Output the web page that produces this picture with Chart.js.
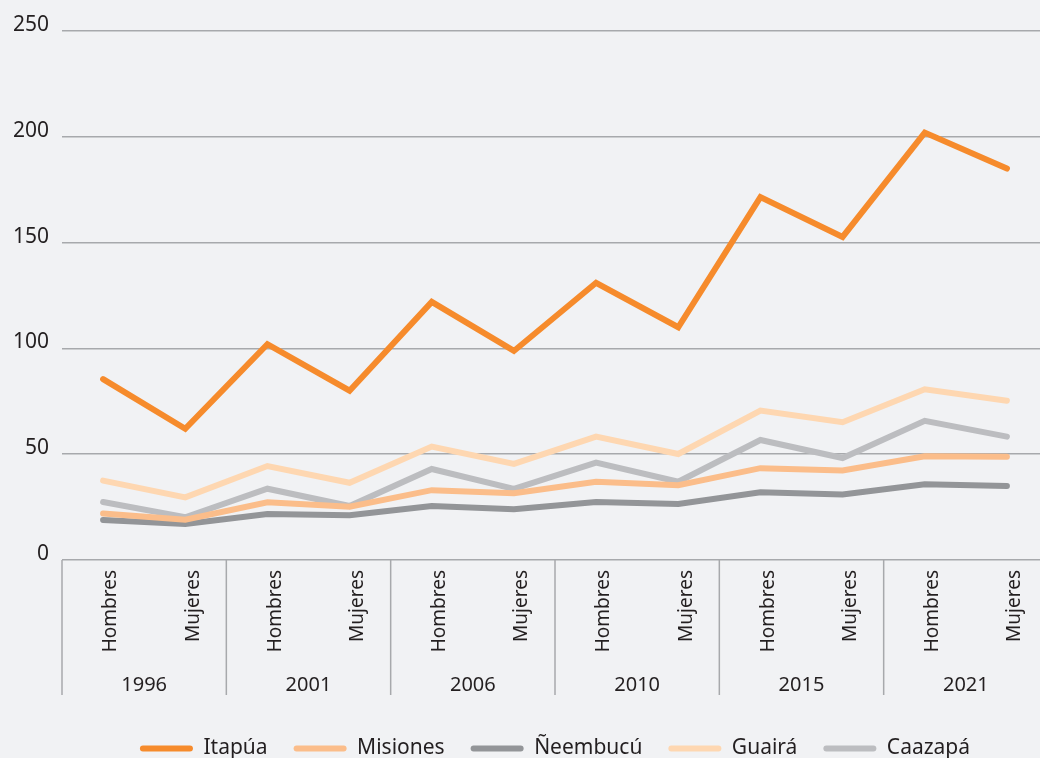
<!DOCTYPE html>
<html lang="es">
<head>
  <meta charset="UTF-8">
  <title>Itapúa y departamentos</title>
  <script src="https://cdn.jsdelivr.net/npm/chart.js"></script>
  <style>
    html, body {
      margin: 0;
      padding: 0;
      background: #f1f2f4;
      overflow: hidden;
    }
    #wrap {
      position: absolute;
      left: 0;
      top: 0;
      width: 1048px;
      height: 780px;
    }
  </style>
</head>
<body>
  <div id="wrap">
    <canvas id="chart" width="1048" height="780"></canvas>
  </div>

  <script>
    // categorias: sexo dentro de cada censo
    const years = ['1996', '2001', '2006', '2010', '2015', '2021'];
    const sexes = ['Hombres', 'Mujeres'];
    const categories = years.flatMap(() => sexes);

    // valores
    const itapua    = [85.5, 62, 102, 80, 122, 98.8, 131, 110, 171.5, 152.7, 202, 185];
    const misiones  = [22, 19, 27.3, 25.2, 33, 31.6, 37, 35.3, 43.4, 42.3, 49, 48.8];
    const neembucu  = [18.9, 17, 21.7, 21.1, 25.5, 24, 27.4, 26.5, 32, 31, 35.8, 35];
    const guaira    = [37.5, 29.6, 44.4, 36.5, 53.6, 45.4, 58.3, 50.1, 70.6, 65.1, 80.7, 75.3];
    const caazapa   = [27.4, 20.2, 33.7, 25.5, 43, 33.6, 46, 37, 56.7, 48.2, 65.8, 58.3];

    const yTicks = [0, 50, 100, 150, 200, 250];

    const FONT = "'Noto Sans', sans-serif";
    const TEXT = '#231f20';
    const GRID = '#a7a9ac';

    function series(label, data, color) {
      return {
        label: label,
        data: data,
        borderColor: color,
        backgroundColor: color,
        borderWidth: 6,
        borderCapStyle: 'round',
        borderJoinStyle: 'miter',
        pointRadius: 0,
        pointHoverRadius: 0,
        tension: 0
      };
    }

    // separadores verticales y etiquetas de año debajo del eje x
    const yearGroups = {
      id: 'yearGroups',
      afterDraw(chart) {
        const ctx = chart.ctx;
        const x = chart.scales.x;
        const bottom = chart.chartArea.bottom;
        const half = (x.getPixelForValue(1) - x.getPixelForValue(0)) / 2;
        ctx.save();
        ctx.strokeStyle = GRID;
        ctx.lineWidth = 1.5;
        for (let i = 0; i <= years.length; i++) {
          const px = x.getPixelForValue(i * 2) - half;
          ctx.beginPath();
          ctx.moveTo(px, bottom);
          ctx.lineTo(px, bottom + 135);
          ctx.stroke();
        }
        ctx.fillStyle = TEXT;
        ctx.font = '20px ' + FONT;
        ctx.textAlign = 'center';
        ctx.textBaseline = 'middle';
        years.forEach((yr, i) => {
          const cx = (x.getPixelForValue(i * 2) + x.getPixelForValue(i * 2 + 1)) / 2;
          ctx.fillText(yr, cx, bottom + 125);
        });
        ctx.restore();
      }
    };

    const ctx = document.getElementById('chart').getContext('2d');
    new Chart(ctx, {
      type: 'line',
      data: {
        labels: categories,
        datasets: [
          series('Itapúa', itapua, '#f68b2c'),
          series('Misiones', misiones, '#fbbd8a'),
          series('Ñeembucú', neembucu, '#939598'),
          series('Guairá', guaira, '#fed7b1'),
          series('Caazapá', caazapa, '#bcbdc0')
        ]
      },
      options: {
        responsive: false,
        animation: false,
        layout: {
          padding: { top: 31, left: 0, right: 0, bottom: 11 }
        },
        scales: {
          x: {
            offset: true,
            grid: { display: false },
            border: { display: false },
            ticks: {
              minRotation: 90,
              maxRotation: 90,
              autoSkip: false,
              padding: 2,
              labelOffset: 8,
              color: TEXT,
              font: { family: FONT, size: 19 }
            },
            afterFit(scale) { scale.height = 152; }
          },
          y: {
            min: 0,
            max: 250,
            afterBuildTicks(scale) { scale.ticks = yTicks.map(v => ({ value: v })); },
            grid: { color: GRID, lineWidth: 1.5, drawTicks: false },
            border: { display: false },
            ticks: {
              padding: 13,
              labelOffset: -6,
              color: TEXT,
              font: { family: FONT, size: 21 }
            },
            afterFit(scale) { scale.width = 62; }
          }
        },
        plugins: {
          tooltip: { enabled: false },
          legend: {
            position: 'bottom',
            fullSize: false,
            labels: {
              boxWidth: 53,
              boxHeight: 6,
              useBorderRadius: true,
              borderRadius: 3,
              padding: 26,
              color: TEXT,
              font: { family: FONT, size: 21 },
              generateLabels(chart) {
                return Chart.defaults.plugins.legend.labels.generateLabels(chart)
                  .map(l => Object.assign(l, { lineWidth: 0, strokeStyle: l.fillStyle }));
              }
            }
          }
        }
      },
      plugins: [yearGroups]
    });
  </script>
</body>
</html>
